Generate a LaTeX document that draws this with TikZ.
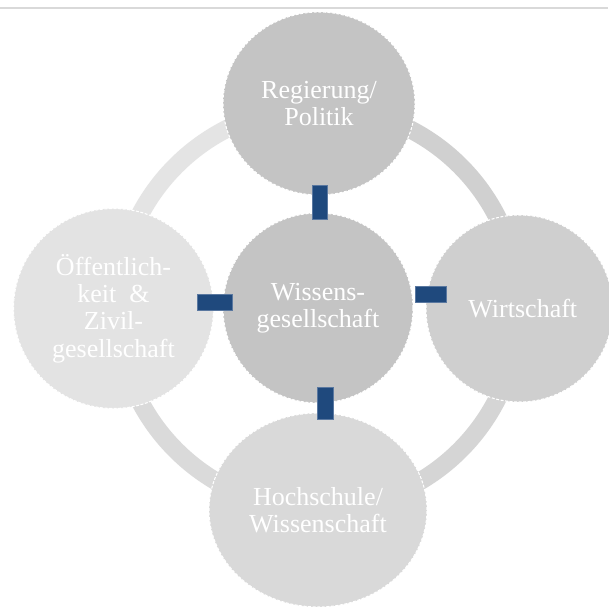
\documentclass[tikz,border=0pt]{standalone}
\usepackage{fontspec}
\setmainfont{Liberation Serif}
\usetikzlibrary{shapes.geometric}
\definecolor{ringA}{HTML}{D0D0D0}
\definecolor{ringB}{HTML}{D5D5D5}
\definecolor{ringC}{HTML}{DADADA}
\definecolor{ringD}{HTML}{E4E4E4}
\definecolor{fillTop}{HTML}{C4C4C4}
\definecolor{fillMid}{HTML}{C4C4C4}
\definecolor{fillRight}{HTML}{CFCFCF}
\definecolor{fillBottom}{HTML}{D9D9D9}
\definecolor{fillLeft}{HTML}{E3E3E3}
\definecolor{barblue}{HTML}{1F497D}
\definecolor{baredge}{HTML}{5A78A0}
\definecolor{topline}{HTML}{D9D9D9}
\tikzset{
  bubble/.style={ellipse, inner sep=0pt, draw=white, line width=0.8pt,
    dash pattern=on 2.2pt off 1.2pt, text=white, align=center,
    font=\fontsize{19.5}{20.6}\selectfont},
  ringseg/.style={line width=13.5pt},
  bar/.style={rectangle, inner sep=0pt, fill=barblue, draw=baredge, line width=0.4pt}
}
\begin{document}
\begin{tikzpicture}[x=0.75pt,y=-0.75pt]
\useasboundingbox (0,0) rectangle (608,608);
\fill[white] (0,0) rectangle (608,608);
% top rule
\coordinate (tl) at (0,7.5);
\coordinate (tr) at (608,7.5);
\draw[topline, line width=1.5pt] (tl) -- (tr);
% ring
\coordinate (ringc) at (318,308);
\draw[ringseg, ringA] (318,107) arc[start angle=-90, end angle=0, radius=201];
\draw[ringseg, ringB] (519,308) arc[start angle=0, end angle=90, radius=201];
\draw[ringseg, ringC] (318,509) arc[start angle=90, end angle=180, radius=201];
\draw[ringseg, ringD] (117,308) arc[start angle=180, end angle=270, radius=201];
% circles
\node[bubble, fill=fillTop, minimum width=144pt, minimum height=137.25pt] (top) at (319,103.5) {Regierung/\\Politik};
\node[bubble, fill=fillMid, minimum width=142.5pt, minimum height=142.5pt] (mid) at (318,308) {Wissens-\\gesellschaft};
\node[bubble, fill=fillLeft, minimum width=150pt, minimum height=150pt] (left) at (113.5,308.5) {Öffentlich-\\keit\ \ \&\\Zivil-\\gesellschaft};
\node[bubble, fill=fillRight, minimum width=140.25pt, minimum height=140.25pt] (right) at (519.5,308.5) {\hspace*{5pt}Wirtschaft};
\node[bubble, fill=fillBottom, minimum width=163.5pt, minimum height=145.5pt] (bottom) at (318,510) {Hochschule/\\Wissenschaft};
% connector bars
\node[bar, minimum width=11.25pt, minimum height=25.5pt] (bartop) at (319.5,202) {};
\node[bar, minimum width=26.25pt, minimum height=12pt] (barleft) at (214.5,302) {};
\node[bar, minimum width=23.25pt, minimum height=12pt] (barright) at (430.5,294) {};
\node[bar, minimum width=12pt, minimum height=24pt] (barbottom) at (325,403) {};
\end{tikzpicture}
\end{document}
